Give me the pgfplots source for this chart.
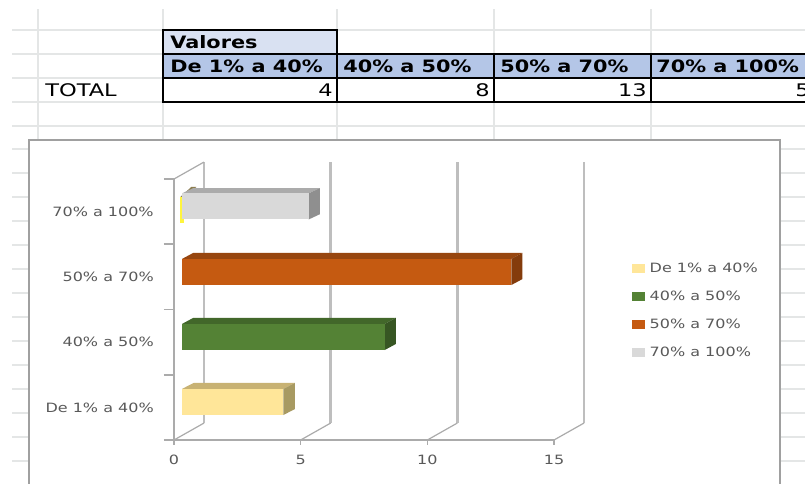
\documentclass[border=0pt]{standalone}
\usepackage{pgfplots}
\pgfplotsset{compat=1.18}
\usepackage{fontspec}
\usepackage{graphicx}
\setmainfont{DejaVu Sans}
\definecolor{sheet}{HTML}{E4E6E6}
\definecolor{lab}{HTML}{595959}
\definecolor{axl}{HTML}{ABABAB}
\definecolor{wall}{HTML}{BEBEBE}
\definecolor{hda}{HTML}{D9E1F2}
\definecolor{hdb}{HTML}{B4C6E7}
\definecolor{frm}{HTML}{A0A0A0}
\definecolor{yf}{HTML}{FFE699}\definecolor{yt}{HTML}{C8B273}\definecolor{ys}{HTML}{A89A62}
\definecolor{gf}{HTML}{548235}\definecolor{gt}{HTML}{42672A}\definecolor{gs}{HTML}{375623}
\definecolor{of}{HTML}{C55A11}\definecolor{ot}{HTML}{97460F}\definecolor{os}{HTML}{843C0C}
\definecolor{lf}{HTML}{D9D9D9}\definecolor{lt}{HTML}{ABABAB}\definecolor{ls}{HTML}{8F8F8F}
\newcommand{\lbl}[1]{\scalebox{1.25}[1]{\fontsize{9.6pt}{11pt}\selectfont #1}}
\newcommand{\hdr}[1]{\scalebox{1.22}[1]{\fontsize{12.8pt}{14pt}\selectfont\bfseries #1}}
\newcommand{\cel}[1]{\scalebox{1.3}[1]{\fontsize{13pt}{14pt}\selectfont #1}}
\begin{document}
\begin{tikzpicture}
\useasboundingbox (0,0) rectangle (603.75pt,-362.25pt);
\clip (0,0) rectangle (603.75pt,-362.25pt);
\fill[white] (0,0) rectangle (603.75pt,-362.25pt);
\begin{scope}[x=.75pt,y=-.75pt]
  % spreadsheet grid
  \foreach \yy in {30,54,78,102,126,149,173,197,221,245,269,293,317,341,365,389,413,437,461}
    \draw[sheet,line width=1.2pt] (12,\yy) -- (805,\yy);
  \foreach \xx in {38,163,337,494,651}
    \draw[sheet,line width=1.2pt] (\xx,9) -- (\xx,140);
  % table
  \fill[hda] (163,30) rectangle (337,54);
  \fill[hdb] (163,54) rectangle (805,78);
  \draw[black,line width=1.1pt] (163,30) rectangle (337,54);
  \draw[black,line width=1.1pt] (163,54) rectangle (810,102);
  \draw[black,line width=1.1pt] (163,78) -- (805,78);
  \foreach \xx in {337,494,651} \draw[black,line width=1.1pt] (\xx,54) -- (\xx,102);
  \node[anchor=base west,inner sep=0] at (170,48) {\hdr{Valores}};
  \node[anchor=base west,inner sep=0] at (170,72) {\hdr{De 1\% a 40\%}};
  \node[anchor=base west,inner sep=0] at (343,72) {\hdr{40\% a 50\%}};
  \node[anchor=base west,inner sep=0] at (500,72) {\hdr{50\% a 70\%}};
  \node[anchor=base west,inner sep=0] at (656,72) {\hdr{70\% a 100\%}};
  \node[anchor=base west,inner sep=0] at (45,96) {\cel{TOTAL}};
  \node[anchor=base east,inner sep=0] at (333,96) {\cel{4}};
  \node[anchor=base east,inner sep=0] at (490,96) {\cel{8}};
  \node[anchor=base east,inner sep=0] at (647,96) {\cel{13}};
  \node[anchor=base east,inner sep=0] at (810,96) {\cel{5}};
  % chart frame
  \fill[white] (29,140) rectangle (780,490);
  \draw[frm,line width=1.2pt] (29,490) -- (29,140) -- (780,140) -- (780,490);
\end{scope}
\begin{axis}[
  at={(130.5pt,-330pt)}, anchor=origin,
  scale only axis, width=285pt, height=195.75pt,
  xmin=0, xmax=15, ymin=0, ymax=4,
  axis x line=bottom, axis y line=left,
  axis line style={axl,line width=1.4pt,-},
  clip=false,
  xtick={0,5,10,15},
  ytick={0.5,1.5,2.5,3.5},
  yticklabels={\lbl{De 1\% a 40\%},\lbl{40\% a 50\%},\lbl{50\% a 70\%},\lbl{70\% a 100\%}},
  minor ytick={0,1,2,3,4},
  xticklabel={\lbl{\pgfmathprintnumber[assume math mode=true]{\tick}}},
  tick style={axl,line width=1.2pt},
  major tick length=0pt,
  minor tick length=7.5pt,
  xtick style={draw=none},
  tick align=outside,
  yticklabel style={text=lab,inner sep=0pt,xshift=-15pt},
  xticklabel style={text=lab,inner sep=0pt,yshift=-11pt},
  legend style={at={(axis cs:18.08,2.71)},anchor=north west,draw=none,fill=none,
    inner sep=0pt,outer sep=0pt,
    /tikz/every even column/.style={column sep=0pt},
    row sep=12.3pt,font=\color{lab},nodes={inner sep=0pt}},
  legend cell align=left,
  legend image code/.code={\fill[#1] (0pt,-3.4pt) rectangle (9.75pt,3.4pt);},
]
% walls and floor
\addplot[wall,line width=1.3pt,forget plot] coordinates {(1.184,0.26) (1.184,4.26)};
\addplot[wall,line width=1.9pt,forget plot] coordinates {(6.184,0.26) (6.184,4.26)};
\addplot[wall,line width=1.9pt,forget plot] coordinates {(11.184,0.26) (11.184,4.26)};
\addplot[wall,line width=1.3pt,forget plot] coordinates {(16.184,0.26) (16.184,4.26)};
\addplot[axl,line width=.9pt,forget plot] coordinates {(0,4) (1.184,4.26)};
\addplot[axl,line width=.9pt,forget plot] coordinates {(0,0) (1.184,0.26)};
\addplot[axl,line width=.9pt,forget plot] coordinates {(5,0) (6.184,0.26)};
\addplot[axl,line width=.9pt,forget plot] coordinates {(10,0) (11.184,0.26)};
\addplot[axl,line width=.9pt,forget plot] coordinates {(15,0) (16.184,0.26)};
\addplot[axl,line width=1pt,forget plot] coordinates {(5,0) (5,-0.07)};
\addplot[axl,line width=1pt,forget plot] coordinates {(10,0) (10,-0.07)};
\addplot[axl,line width=1pt,forget plot] coordinates {(15,0) (15,-0.07)};
\addplot[axl,line width=1pt,forget plot] coordinates {(0,0) (0,-0.07)};
% zero-width first series in the top category
\addplot[fill=yt!70!black,draw=none,forget plot,xshift=4.5pt] coordinates {(0,3.72) (0.2,3.72) (0.65,3.88) (0.45,3.88)} -- cycle;
\addplot[fill=yf!40!yellow,draw=none,forget plot,xshift=4.5pt] coordinates {(0,3.32) (0.16,3.32) (0.16,3.73) (0,3.73)} -- cycle;
% top and side faces
\addplot[fill=yt,draw=none,forget plot,xshift=6pt] coordinates {(0,0.783) (4,0.783) (4.46,0.875) (0.46,0.875)} -- cycle;
\addplot[fill=ys,draw=none,forget plot,xshift=6pt] coordinates {(4,0.383) (4,0.783) (4.46,0.875) (4.46,0.475)} -- cycle;
\addplot[fill=gt,draw=none,forget plot,xshift=6pt] coordinates {(0,1.779) (8,1.779) (8.44,1.871) (0.44,1.871)} -- cycle;
\addplot[fill=gs,draw=none,forget plot,xshift=6pt] coordinates {(8,1.379) (8,1.779) (8.44,1.871) (8.44,1.471)} -- cycle;
\addplot[fill=ot,draw=none,forget plot,xshift=6pt] coordinates {(0,2.775) (13,2.775) (13.44,2.867) (0.44,2.867)} -- cycle;
\addplot[fill=os,draw=none,forget plot,xshift=6pt] coordinates {(13,2.375) (13,2.775) (13.44,2.867) (13.44,2.467)} -- cycle;
\addplot[fill=lt,draw=none,forget plot,xshift=6pt] coordinates {(0,3.78) (5,3.78) (5.44,3.86) (0.44,3.86)} -- cycle;
\addplot[fill=ls,draw=none,forget plot,xshift=6pt] coordinates {(5,3.38) (5,3.78) (5.44,3.86) (5.44,3.46)} -- cycle;
% front faces
\addplot[xbar,bar shift=0pt,bar width=19.5pt,fill=yf,draw=none,xshift=6pt] coordinates {(4,0.583)};
\addlegendentry{\hspace*{3.5pt}\lbl{De 1\% a 40\%}}
\addplot[xbar,bar shift=0pt,bar width=19.5pt,fill=gf,draw=none,xshift=6pt] coordinates {(8,1.579)};
\addlegendentry{\hspace*{3.5pt}\lbl{40\% a 50\%}}
\addplot[xbar,bar shift=0pt,bar width=19.5pt,fill=of,draw=none,xshift=6pt] coordinates {(13,2.575)};
\addlegendentry{\hspace*{3.5pt}\lbl{50\% a 70\%}}
\addplot[xbar,bar shift=0pt,bar width=19.5pt,fill=lf,draw=none,xshift=6pt] coordinates {(5,3.58)};
\addlegendentry{\hspace*{3.5pt}\lbl{70\% a 100\%}}
\end{axis}
\end{tikzpicture}
\end{document}
